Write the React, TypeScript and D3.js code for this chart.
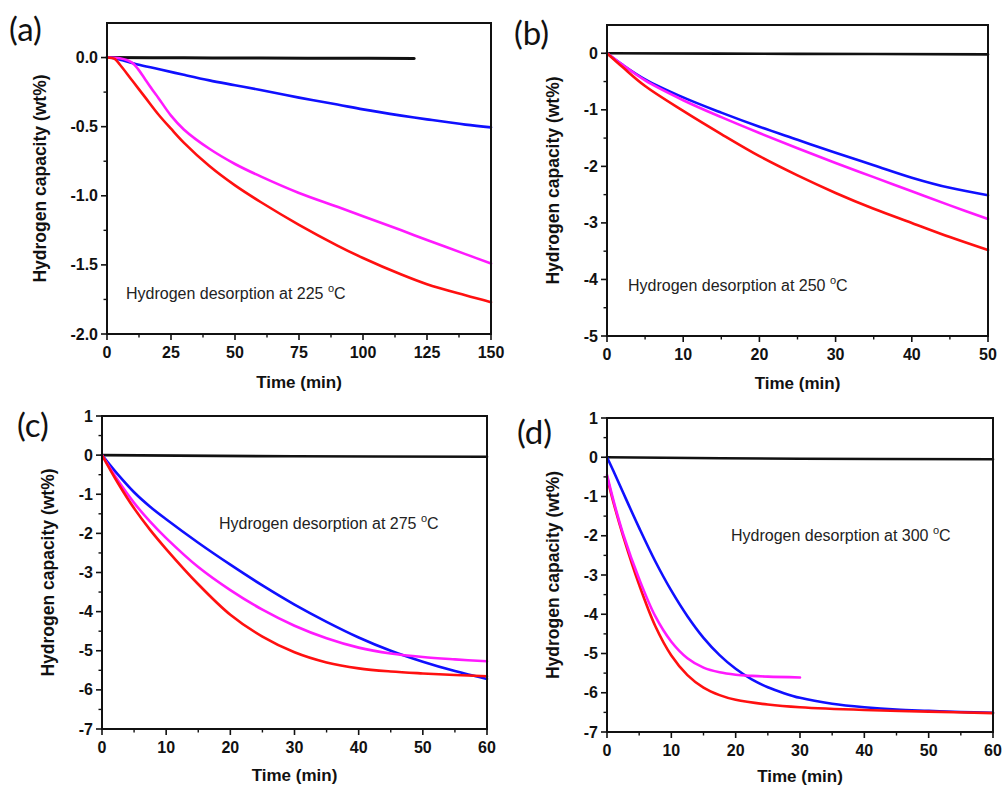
import * as d3 from 'd3';

// panel (a) 225 °C
const timeA = [0, 3, 6, 12, 20, 30, 40, 50, 60, 75, 90, 100, 115, 125, 140, 150];
const blueA = [0, -0.005, -0.02, -0.05, -0.083, -0.125, -0.165, -0.2, -0.235, -0.29, -0.34, -0.375, -0.42, -0.447, -0.485, -0.505];
const magentaTimeA = [0, 5, 8, 10, 12, 15, 18, 20, 25, 30, 40, 50, 60, 75, 90, 100, 115, 125, 140, 150];
const magentaA = [0, -0.005, -0.02, -0.04, -0.08, -0.16, -0.24, -0.29, -0.42, -0.52, -0.66, -0.77, -0.86, -0.98, -1.08, -1.148, -1.25, -1.32, -1.422, -1.49];
const redTimeA = [0, 3, 5, 10, 15, 20, 25, 30, 40, 50, 60, 75, 90, 100, 115, 125, 140, 150];
const redA = [0, -0.01, -0.05, -0.17, -0.29, -0.41, -0.515, -0.615, -0.785, -0.925, -1.045, -1.21, -1.36, -1.45, -1.57, -1.64, -1.72, -1.77];
const blackTimeA = [0, 30, 60, 90, 120];
const blackA = [0, -0.002, -0.004, -0.005, -0.006];

// panel (b) 250 °C
const timeB = [0, 2, 5, 10, 15, 20, 25, 30, 35, 40, 45, 50];
const blueB = [0, -0.2, -0.46, -0.78, -1.05, -1.3, -1.53, -1.76, -1.98, -2.2, -2.38, -2.51];
const magentaB = [0, -0.2, -0.48, -0.83, -1.13, -1.41, -1.68, -1.94, -2.19, -2.44, -2.69, -2.93];
const redB = [0, -0.24, -0.58, -1.02, -1.43, -1.82, -2.16, -2.47, -2.75, -3.0, -3.25, -3.48];
const blackTimeB = [0, 25, 50];
const blackB = [0, -0.01, -0.02];

// panel (c) 275 °C
const timeC = [0, 2.5, 5, 7.5, 10, 15, 20, 25, 30, 35, 40, 45, 50, 55, 60];
const blueC = [0, -0.5, -0.95, -1.32, -1.64, -2.24, -2.8, -3.33, -3.82, -4.26, -4.66, -5.0, -5.28, -5.52, -5.72];
const magentaC = [0, -0.65, -1.22, -1.7, -2.12, -2.86, -3.45, -3.95, -4.36, -4.68, -4.92, -5.07, -5.16, -5.22, -5.27];
const redC = [0, -0.72, -1.36, -1.91, -2.4, -3.3, -4.08, -4.64, -5.04, -5.3, -5.45, -5.53, -5.58, -5.62, -5.65];
const blackTimeC = [0, 30, 60];
const blackC = [0, -0.03, -0.04];

// panel (d) 300 °C
const blueTimeD = [0, 1, 2.5, 5, 7.5, 10, 12.5, 15, 17.5, 20, 22.5, 25, 27.5, 30, 35, 40, 45, 50, 55, 60];
const blueD = [0, -0.35, -0.9, -1.8, -2.65, -3.4, -4.05, -4.6, -5.04, -5.39, -5.66, -5.86, -6.01, -6.13, -6.28, -6.37, -6.43, -6.46, -6.49, -6.51];
const redTimeD = [0, 1, 2.5, 5, 7.5, 10, 12.5, 15, 17.5, 20, 25, 30, 40, 50, 60];
const redD = [-0.5, -1.15, -2.0, -3.25, -4.3, -5.05, -5.55, -5.87, -6.06, -6.18, -6.3, -6.37, -6.44, -6.48, -6.52];
const magentaTimeD = [0, 1, 2.5, 5, 7.5, 10, 12.5, 15, 17.5, 20, 22.5, 25, 30];
const magentaD = [-0.45, -1.1, -1.95, -3.1, -4.05, -4.7, -5.12, -5.36, -5.48, -5.54, -5.57, -5.59, -5.61];
const blackTimeD = [0, 30, 60];
const blackD = [0, -0.04, -0.05];

const xTitle = 'Time (min)';
const yTitle = 'Hydrogen capacity (wt%)';

const COLORS = { black: '#111', blue: '#1010ff', magenta: '#ff1aff', red: '#ff1010' };

type Series = { t: number[]; v: number[]; color: string; width: number };

interface PanelProps {
  letter: string;
  letterPos: [number, number];
  frame: [number, number, number, number]; // left, top, right, bottom
  xDomain: [number, number];
  xStep: number;
  yDomain: [number, number];
  yStep: number;
  yDecimals: number;
  yTitleOffset: number;
  xTitleOffset: number;
  temp: string;
  notePos: [number, number];
  series: Series[];
}

const FONT = "'Liberation Sans', Arial, sans-serif";

const Panel = (p: PanelProps) => {
  const [l, t, r, b] = p.frame;
  const x = d3.scaleLinear().domain(p.xDomain).range([l, r]);
  const y = d3.scaleLinear().domain(p.yDomain).range([b, t]);

  const xMajor = d3.range(p.xDomain[0], p.xDomain[1] + 1e-9, p.xStep);
  const xMinor = d3.range(p.xDomain[0] + p.xStep / 2, p.xDomain[1], p.xStep);
  const yMajor = d3.range(p.yDomain[0], p.yDomain[1] + 1e-9, p.yStep);
  const yMinor = d3.range(p.yDomain[0] + p.yStep / 2, p.yDomain[1] - 1e-9, p.yStep);
  const fmt = (v: number) => (Math.abs(v) < 1e-9 ? (0).toFixed(p.yDecimals) : v.toFixed(p.yDecimals));

  const line = d3
    .line<[number, number]>()
    .x((d) => x(d[0]))
    .y((d) => y(d[1]))
    .curve(d3.curveCatmullRom.alpha(0.5));

  const cy = (t + b) / 2;
  const cx = (l + r) / 2;

  return (
    <g>
      <text x={p.letterPos[0]} y={p.letterPos[1]} fontFamily="Lato, 'Open Sans', sans-serif" fontSize={33} fill="#111">
        {p.letter}
      </text>
      <g>
        {p.series.map((s, i) => (
          <path
            key={i}
            d={line(s.t.map((tt, j) => [tt, s.v[j]] as [number, number])) || ''}
            fill="none"
            stroke={s.color}
            strokeWidth={s.width}
            strokeLinejoin="round"
            strokeLinecap="round"
          />
        ))}
      </g>
      <rect x={l} y={t} width={r - l} height={b - t} fill="none" stroke="#111" strokeWidth={2} />
      {xMajor.map((v) => (
        <g key={'xm' + v}>
          <line x1={x(v)} x2={x(v)} y1={b} y2={b + 6} stroke="#111" strokeWidth={1.6} />
          <text x={x(v)} y={b + 24} textAnchor="middle" fontFamily={FONT} fontWeight="bold" fontSize={16} fill="#111">
            {v}
          </text>
        </g>
      ))}
      {xMinor.map((v) => (
        <line key={'xn' + v} x1={x(v)} x2={x(v)} y1={b} y2={b + 3.5} stroke="#111" strokeWidth={1.4} />
      ))}
      {yMajor.map((v) => (
        <g key={'ym' + v}>
          <line x1={l - 6} x2={l} y1={y(v)} y2={y(v)} stroke="#111" strokeWidth={1.6} />
          <text x={l - 9} y={y(v) + 5.5} textAnchor="end" fontFamily={FONT} fontWeight="bold" fontSize={16} fill="#111">
            {fmt(v)}
          </text>
        </g>
      ))}
      {yMinor.map((v) => (
        <line key={'yn' + v} x1={l - 3.5} x2={l} y1={y(v)} y2={y(v)} stroke="#111" strokeWidth={1.4} />
      ))}
      <text x={cx} y={b + p.xTitleOffset} textAnchor="middle" fontFamily={FONT} fontWeight="bold" fontSize={17} fill="#111">
        {xTitle}
      </text>
      <text
        transform={`translate(${l - p.yTitleOffset},${cy}) rotate(-90)`}
        textAnchor="middle"
        dy="0.35em"
        fontFamily={FONT}
        fontWeight="bold"
        fontSize={17.5}
        fill="#111"
      >
        {yTitle}
      </text>
      <text x={p.notePos[0]} y={p.notePos[1]} fontFamily={FONT} fontSize={16} fill="#222">
        Hydrogen desorption at {p.temp} <tspan dy={-7} fontSize={11}>o</tspan>
        <tspan dy={7}>C</tspan>
      </text>
    </g>
  );
};

export default function App() {
  const mk = (t: number[], v: number[], color: string, width = 2.6): Series => ({ t, v, color, width });
  return (
    <div style={{ position: 'absolute', left: 0, top: 0 }}>
      <svg width={1003} height={788} style={{ display: 'block', background: '#fff' }}>
        <Panel
          letter="(a)"
          letterPos={[9, 41]}
          frame={[107, 23, 491, 334]}
          xDomain={[0, 150]}
          xStep={25}
          yDomain={[-2, 0.25]}
          yStep={0.5}
          yDecimals={1}
          yTitleOffset={67}
          xTitleOffset={54}
          temp="225"
          notePos={[126, 299]}
          series={[
            mk(blackTimeA, blackA, COLORS.black, 3),
            mk(timeA, blueA, COLORS.blue),
            mk(magentaTimeA, magentaA, COLORS.magenta),
            mk(redTimeA, redA, COLORS.red),
          ]}
        />
        <Panel
          letter="(b)"
          letterPos={[514, 45]}
          frame={[607, 25, 988, 336]}
          xDomain={[0, 50]}
          xStep={10}
          yDomain={[-5, 0.5]}
          yStep={1}
          yDecimals={0}
          yTitleOffset={54}
          xTitleOffset={53}
          temp="250"
          notePos={[628, 291]}
          series={[
            mk(blackTimeB, blackB, COLORS.black, 2.6),
            mk(timeB, blueB, COLORS.blue),
            mk(timeB, magentaB, COLORS.magenta),
            mk(timeB, redB, COLORS.red),
          ]}
        />
        <Panel
          letter="(c)"
          letterPos={[17, 437]}
          frame={[102, 416, 487, 729]}
          xDomain={[0, 60]}
          xStep={10}
          yDomain={[-7, 1]}
          yStep={1}
          yDecimals={0}
          yTitleOffset={54}
          xTitleOffset={52}
          temp="275"
          notePos={[219, 529]}
          series={[
            mk(blackTimeC, blackC, COLORS.black, 2.6),
            mk(timeC, blueC, COLORS.blue),
            mk(timeC, magentaC, COLORS.magenta),
            mk(timeC, redC, COLORS.red),
          ]}
        />
        <Panel
          letter="(d)"
          letterPos={[517, 444]}
          frame={[607, 418, 993, 732]}
          xDomain={[0, 60]}
          xStep={10}
          yDomain={[-7, 1]}
          yStep={1}
          yDecimals={0}
          yTitleOffset={54}
          xTitleOffset={50}
          temp="300"
          notePos={[731, 541]}
          series={[
            mk(blackTimeD, blackD, COLORS.black, 2.6),
            mk(blueTimeD, blueD, COLORS.blue),
            mk(redTimeD, redD, COLORS.red),
            mk(magentaTimeD, magentaD, COLORS.magenta),
          ]}
        />
      </svg>
    </div>
  );
}
